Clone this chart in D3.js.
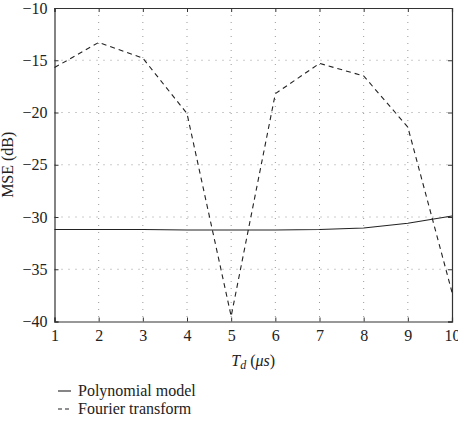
<!DOCTYPE html>
<html><head><meta charset="utf-8">
<script src="https://cdn.jsdelivr.net/npm/d3@7"></script>
<style>
body{margin:0;background:#fff;}
svg text{font-family:"Liberation Serif","DejaVu Serif","Times New Roman",serif !important;}
</style></head>
<body><svg id="c" width="458" height="422"></svg>
<script>
const tdValues = [1,2,3,4,5,6,7,8,9,10];
const polynomialMSE = [-31.2,-31.2,-31.2,-31.25,-31.25,-31.25,-31.2,-31.05,-30.6,-29.9];
const fourierMSE = [-15.7,-13.3,-14.8,-20.1,-39.5,-18.2,-15.3,-16.5,-21.4,-37.2];
const xTicks = [1,2,3,4,5,6,7,8,9,10];
const yTicks = [-40,-35,-30,-25,-20,-15,-10];
const seriesNames = ["Polynomial model","Fourier transform"];

const svg = d3.select("#c");
const m = {l:54.5, r:452, t:8, b:321.5};
const x = d3.scaleLinear().domain([1,10]).range([m.l,m.r]);
const y = d3.scaleLinear().domain([-40,-10]).range([m.b,m.t]);

// grid
const g = svg.append("g");
g.selectAll(".vg").data(xTicks.slice(1,-1)).enter().append("line")
 .attr("x1",d=>x(d)).attr("x2",d=>x(d)).attr("y1",m.t).attr("y2",m.b)
 .attr("stroke","#999").attr("stroke-width",1).attr("stroke-dasharray","1,6");
g.selectAll(".hg").data(yTicks.slice(1,-1)).enter().append("line")
 .attr("y1",d=>y(d)).attr("y2",d=>y(d)).attr("x1",m.l).attr("x2",m.r)
 .attr("stroke","#999").attr("stroke-width",1).attr("stroke-dasharray","1,6");

// axes
const xa = svg.append("g").attr("transform",`translate(0,${m.b})`)
 .call(d3.axisBottom(x).tickValues(xTicks).tickSize(-4).tickPadding(7).tickFormat(d3.format("d")));
const xt = svg.append("g").attr("transform",`translate(0,${m.t})`)
 .call(d3.axisTop(x).tickValues(xTicks).tickSize(-4).tickFormat(""));
const ya = svg.append("g").attr("transform",`translate(${m.l},0)`)
 .call(d3.axisLeft(y).tickValues(yTicks).tickSize(-4).tickPadding(7).tickFormat(d=>"\u2212"+Math.abs(d)));
const yr = svg.append("g").attr("transform",`translate(${m.r},0)`)
 .call(d3.axisRight(y).tickValues(yTicks).tickSize(-4).tickFormat(""));
[xa,xt,ya,yr].forEach(a=>{
  a.attr("font-family",null).attr("font-size",null);
  a.selectAll("path").attr("stroke","#333").attr("stroke-width",1.2);
  a.selectAll("line").attr("stroke","#333");
  a.selectAll("text").attr("font-size",16).attr("fill","#222");
});
xa.selectAll("text").attr("dy","0.75em");

// lines
const line = d3.line().x((d,i)=>x(tdValues[i])).y(d=>y(d));
svg.append("path").datum(polynomialMSE).attr("d",line).attr("fill","none")
 .attr("stroke","#222").attr("stroke-width",1.1);
svg.append("path").datum(fourierMSE).attr("d",line).attr("fill","none")
 .attr("stroke","#222").attr("stroke-width",1.1).attr("stroke-dasharray","5,4");

// axis labels
svg.append("text").attr("transform",`translate(13,${(m.t+m.b)/2}) rotate(-90)`)
 .attr("text-anchor","middle").attr("font-size",16).attr("fill","#222").text("MSE (dB)");
const xl = svg.append("text").attr("x",(m.l+m.r)/2).attr("y",366).attr("text-anchor","middle")
 .attr("font-size",16).attr("fill","#222");
xl.append("tspan").attr("font-style","italic").text("T");
xl.append("tspan").attr("font-style","italic").attr("font-size",12).attr("dy",3).text("d");
xl.append("tspan").attr("dy",-3).text(" (");
xl.append("tspan").attr("font-style","italic").text("\u03bcs");
xl.append("tspan").text(")");

// legend
const lg = svg.append("g");
seriesNames.forEach((n,i)=>{
  const yy = 391 + i*18;
  lg.append("line").attr("x1",58).attr("x2",71).attr("y1",yy).attr("y2",yy)
    .attr("stroke","#222").attr("stroke-width",1.1).attr("stroke-dasharray",i?"4,3":null);
  lg.append("text").attr("x",78).attr("y",yy+5).attr("font-size",16).attr("fill","#222").text(n);
});
</script></body></html>
